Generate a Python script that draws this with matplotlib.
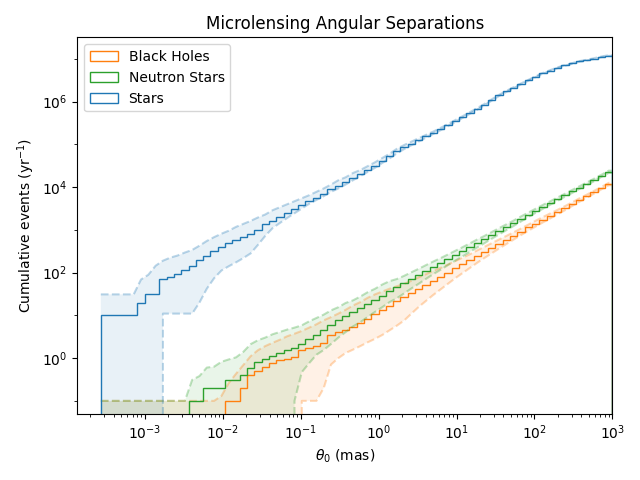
import matplotlib
matplotlib.use("Agg")
import matplotlib.pyplot as plt
import matplotlib.ticker as mticker
import numpy as np

# bin edges in mas (log spaced)
theta_min = 2.73e-4
theta_max = 1e3
n_bins = 70

# cumulative events per bin (yr^-1)
stars = [10, 10, 10, 10, 10, 20, 31, 31,
         71, 81, 93, 117, 140, 197, 248, 313, 388, 481, 575, 664,
         822, 982, 1355, 1618, 2004, 2529, 3027, 3750, 4721, 5649,
         7000, 8831, 1.05e4, 1.31e4, 1.65e4, 2.08e4, 2.58e4, 3.19e4, 4.17e4, 5.26e4,
         6.95e4, 8.61e4, 1.04e5, 1.27e5, 1.54e5, 1.87e5, 2.28e5, 2.82e5, 3.50e5, 4.37e5,
         5.43e5, 6.76e5, 8.57e5, 1.10e6, 1.40e6, 1.74e6, 2.13e6, 2.61e6, 3.16e6, 3.84e6,
         4.60e6, 5.35e6, 6.21e6, 7.03e6, 7.82e6, 8.75e6, 9.38e6, 1.02e7, 1.12e7, 1.20e7]
stars_hi = [31, 31, 31, 31, 31, 69, 89, 145,
            190, 224, 251, 295, 339, 427, 550, 676, 813, 955, 1175, 1380,
            1620, 1950, 2290, 2880, 3390, 3980, 4680, 5500, 6460, 7760,
            9330, 1.15e4, 1.45e4, 1.70e4, 2.14e4, 2.51e4, 3.09e4, 3.80e4, 4.79e4, 6.03e4,
            7.89e4, 9.66e4, 1.16e5, 1.40e5, 1.67e5, 2.00e5, 2.44e5, 2.99e5, 3.71e5, 4.57e5,
            5.69e5, 7.08e5, 8.87e5, 1.14e6, 1.45e6, 1.79e6, 2.19e6, 2.67e6, 3.24e6, 3.93e6,
            4.71e6, 5.47e6, 6.35e6, 7.16e6, 7.96e6, 8.91e6, 9.55e6, 1.04e7, 1.14e7, 1.22e7]
stars_lo = [0, 0, 0, 0, 0, 0, 0, 0,
            11, 11, 11, 11, 11, 20, 42, 74, 112, 141, 174, 219,
            282, 447, 724, 1100, 1450, 1900, 2450, 3160, 4070, 5010,
            6170, 7760, 9330, 1.15e4, 1.45e4, 1.82e4, 2.26e4, 2.82e4, 3.67e4, 4.68e4,
            6.17e4, 7.76e4, 9.55e4, 1.17e5, 1.44e5, 1.76e5, 2.15e5, 2.68e5, 3.33e5, 4.17e5,
            5.20e5, 6.49e5, 8.26e5, 1.06e6, 1.36e6, 1.69e6, 2.07e6, 2.55e6, 3.09e6, 3.76e6,
            4.52e6, 5.25e6, 6.11e6, 6.92e6, 7.69e6, 8.61e6, 9.23e6, 1.00e7, 1.10e7, 1.18e7]

ns = [0, 0, 0, 0, 0, 0, 0, 0, 0, 0, 0, 0,
      0.1, 0.1, 0.2, 0.2, 0.2, 0.3, 0.3, 0.4,
      0.6, 0.82, 0.93, 1.11, 1.29, 1.53, 1.77, 2.19, 2.82, 3.43,
      4.48, 5.85, 7.66, 9.64, 11.7, 14.8, 18.6, 22.9, 28.2, 36.3,
      45.7, 56.9, 70.8, 87.1, 108, 135, 166, 207, 257, 316,
      394, 490, 603, 750, 933, 1160, 1450, 1820, 2260, 2820,
      3470, 4270, 5250, 6460, 7940, 9770, 1.20e4, 1.48e4, 1.84e4, 2.29e4]
ns_hi = [0.1, 0.1, 0.1, 0.1, 0.1, 0.1, 0.1, 0.1, 0.1, 0.1, 0.1, 0.1,
         0.31, 0.38, 0.60, 0.63, 0.82, 0.93, 1.04, 1.40,
         2.12, 2.62, 3.02, 3.61, 4.09, 4.65, 5.16, 5.85, 7.24, 8.67,
         10.4, 13.1, 15.5, 19.5, 22.4, 27.5, 34.7, 41.7, 52.5, 63.1,
         70.8, 84.1, 102, 123, 150, 182, 219, 266, 324, 394,
         484, 596, 724, 891, 1100, 1350, 1660, 2070, 2540, 3130,
         3850, 4680, 5750, 7000, 8610, 1.05e4, 1.29e4, 1.58e4, 1.95e4, 2.43e4]
ns_lo = [0, 0, 0, 0, 0, 0, 0, 0, 0, 0, 0, 0, 0, 0, 0, 0, 0, 0, 0, 0,
         0, 0, 0, 0, 0, 0, 0.1, 0.47, 0.76, 1.20,
         1.55, 2.14, 3.02, 4.07, 5.50, 6.92, 9.12, 12.0, 15.5, 20.4,
         25.1, 32.7, 42.7, 55.0, 71.6, 92.3, 117, 150, 191, 240,
         305, 389, 490, 624, 785, 989, 1240, 1580, 2000, 2510,
         3130, 3890, 4790, 5960, 7330, 9120, 1.12e4, 1.38e4, 1.74e4, 2.16e4]

bh = [0, 0, 0, 0, 0, 0, 0, 0, 0, 0, 0, 0, 0, 0, 0, 0, 0,
      0.1, 0.1, 0.2,
      0.4, 0.51, 0.63, 0.75, 0.90, 0.96, 1.04, 1.53, 1.74, 1.90,
      2.28, 3.43, 4.09, 4.65, 5.36, 6.64, 8.36, 11.0, 13.5, 17.0,
      21.4, 26.6, 33.1, 41.7, 51.9, 64.6, 80.4, 100, 126, 157,
      195, 245, 305, 380, 473, 589, 733, 912, 1140, 1410,
      1740, 2140, 2630, 3240, 4030, 5010, 6170, 7590, 9440, 1.17e4]
bh_hi = [0.1, 0.1, 0.1, 0.1, 0.1, 0.1, 0.1, 0.1, 0.1, 0.1, 0.1, 0.1, 0.1, 0.1, 0.1, 0.1,
         0.13, 0.26, 0.43, 0.69,
         1.11, 1.53, 1.91, 2.28, 2.69, 3.24, 3.72, 4.32, 5.16, 6.17,
         7.66, 9.12, 11.0, 13.5, 17.0, 20.4, 25.7, 30.9, 36.0, 42.0,
         48.0, 54.3, 64.6, 77.6, 92.3, 110, 130, 155, 186, 224,
         269, 331, 403, 490, 596, 724, 881, 1080, 1330, 1640,
         2000, 2430, 2950, 3590, 4420, 5500, 6680, 8220, 1.01e4, 1.26e4]
bh_lo = [0, 0, 0, 0, 0, 0, 0, 0, 0, 0, 0, 0, 0, 0, 0, 0, 0, 0, 0, 0,
         0, 0, 0, 0, 0, 0, 0, 0.1, 0.1, 0.1,
         0.2, 0.71, 1.0, 1.32, 1.58, 1.91, 2.34, 2.82, 3.47, 4.47,
         5.75, 7.59, 11.0, 15.8, 21.9, 30.2, 40.7, 55.0, 74.1, 97.7,
         129, 170, 221, 285, 367, 468, 596, 759, 955, 1200,
         1500, 1860, 2320, 2880, 3630, 4570, 5690, 7080, 8910, 1.11e4]

edges = np.logspace(np.log10(theta_min), np.log10(theta_max), n_bins + 1)
centers = np.sqrt(edges[:-1] * edges[1:])
# band is drawn at bin centres, held flat out to the outer edges
x_band = np.concatenate([[edges[0]], centers, [edges[-1]]])


def pad(v):
    v = np.asarray(v, dtype=float)
    return np.concatenate([[v[0]], v, [v[-1]]])


series = [
    ("Black Holes", bh, bh_lo, bh_hi, "C1"),
    ("Neutron Stars", ns, ns_lo, ns_hi, "C2"),
    ("Stars", stars, stars_lo, stars_hi, "C0"),
]

fig, ax = plt.subplots(figsize=(6.4, 4.8), dpi=100)
ax.set_xscale("log")
ax.set_yscale("log")

for label, vals, lo, hi, color in series:
    ax.fill_between(x_band, pad(lo), pad(hi), color=color, alpha=0.1, lw=0)
    ax.plot(x_band, pad(lo), "--", color=color, alpha=0.3)
    ax.plot(x_band, pad(hi), "--", color=color, alpha=0.3)
    ax.hist(centers, bins=edges, weights=vals, histtype="step",
            color=color, label=label)

ax.set_xlim(1.36e-4, 1e3)
ax.set_ylim(0.05, 3.2e7)
ax.yaxis.set_major_locator(mticker.FixedLocator([1e0, 1e2, 1e4, 1e6]))
ax.yaxis.set_minor_locator(mticker.FixedLocator([1e-1, 1e1, 1e3, 1e5, 1e7]))
ax.yaxis.set_minor_formatter(mticker.NullFormatter())
ax.set_xlabel(r"$\theta_0$ (mas)")
ax.set_ylabel(r"Cumulative events (yr$^{-1}$)")
ax.set_title("Microlensing Angular Separations")
ax.legend(loc="upper left")

fig.tight_layout()
fig.savefig("out.png")
